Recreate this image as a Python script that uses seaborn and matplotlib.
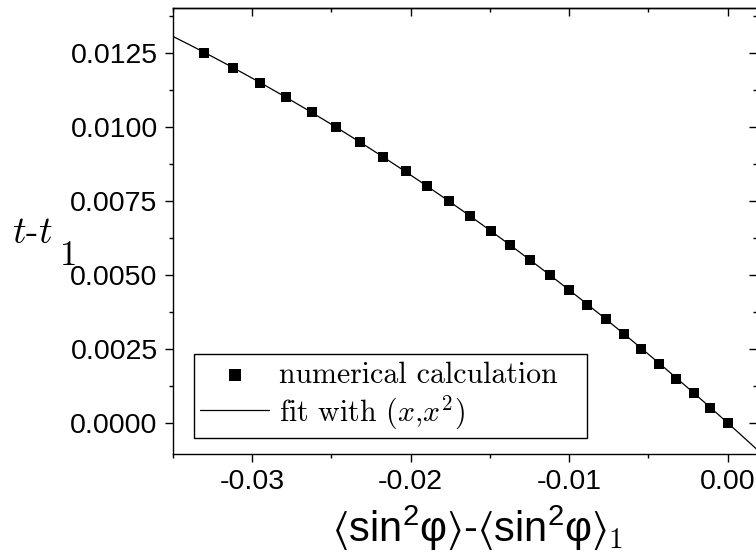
import numpy as np
import pandas as pd
import matplotlib
matplotlib.use("Agg")
import matplotlib.pyplot as plt
from matplotlib.ticker import MultipleLocator, FormatStrFormatter
import seaborn as sns

# Shift of <sin^2 phi> relative to point 1, and the corresponding shift t - t_1
dsin2 = [-0.03303, -0.03124, -0.02951, -0.02787, -0.02623, -0.02471, -0.02320,
         -0.02176, -0.02029, -0.01895, -0.01758, -0.01625, -0.01494, -0.01373,
         -0.01246, -0.01121, -0.01004, -0.00888, -0.00770, -0.00657, -0.00547,
         -0.00436, -0.00324, -0.00215, -0.00109, 0.00000]
dt = [0.0125, 0.0120, 0.0115, 0.0110, 0.0105, 0.0100, 0.0095, 0.0090, 0.0085,
      0.0080, 0.0075, 0.0070, 0.0065, 0.0060, 0.0055, 0.0050, 0.0045, 0.0040,
      0.0035, 0.0030, 0.0025, 0.0020, 0.0015, 0.0010, 0.0005, 0.0000]

label_points = "numerical calculation"
label_fit = r"fit with $(x{,}x^2)$"

df = pd.DataFrame({"x": dsin2, "t": dt})

# least-squares fit t = a x + b x^2 (no constant term)
xv = np.asarray(dsin2)
A = np.column_stack([xv, xv ** 2])
coef, *_ = np.linalg.lstsq(A, np.asarray(dt), rcond=None)
xfit = np.linspace(-0.0352, 0.0020, 300)
fit = pd.DataFrame({"x": xfit, "t": coef[0] * xfit + coef[1] * xfit ** 2})

sns.set_theme(style="ticks")
plt.rcParams.update({
    "font.family": ["Liberation Sans", "DejaVu Sans"],
    "axes.unicode_minus": False,
    "mathtext.fontset": "cm",
    "mathtext.rm": "Liberation Sans",
    "mathtext.it": "Liberation Sans:italic",
    "mathtext.sf": "cmr10",
    "mathtext.fallback": "stix",
    "axes.linewidth": 1.0,
    "axes.edgecolor": "black",
})

W, H = 756, 557
fig = plt.figure(figsize=(W / 100, H / 100), dpi=100)
ax = fig.add_axes([173 / W, 103 / H, 584 / W, 446 / H])

sns.lineplot(data=fit, x="x", y="t", color="black", lw=0.9, sort=False,
             estimator=None, label=label_fit, ax=ax, zorder=2)
sns.scatterplot(data=df, x="x", y="t", marker="s", s=44, color="black",
                edgecolor="black", linewidth=0, label=label_points, ax=ax, zorder=3)

ax.set_xlim(-0.035, 0.00185)
ax.set_ylim(-0.00105, 0.01402)

ax.xaxis.set_major_locator(MultipleLocator(0.01))
ax.xaxis.set_minor_locator(MultipleLocator(0.005))
ax.yaxis.set_major_locator(MultipleLocator(0.0025))
ax.yaxis.set_minor_locator(MultipleLocator(0.00125))
ax.xaxis.set_major_formatter(FormatStrFormatter("%.2f"))
ax.yaxis.set_major_formatter(FormatStrFormatter("%.4f"))

tick_kw = dict(color="black", width=1.0)
ax.tick_params(which="major", length=6, direction="out", labelsize=20.5,
               labelcolor="black", pad=5, **tick_kw)
ax.tick_params(which="minor", length=3, direction="out", **tick_kw)

# mirrored ticks on top and right, pointing into the frame
top = ax.secondary_xaxis("top")
top.xaxis.set_major_locator(MultipleLocator(0.01))
top.xaxis.set_minor_locator(MultipleLocator(0.005))
top.tick_params(which="major", length=6, direction="in", labeltop=False, **tick_kw)
top.tick_params(which="minor", length=3, direction="in", **tick_kw)
right = ax.secondary_yaxis("right")
right.yaxis.set_major_locator(MultipleLocator(0.0025))
right.yaxis.set_minor_locator(MultipleLocator(0.00125))
right.tick_params(which="major", length=6, direction="in", labelright=False, **tick_kw)
right.tick_params(which="minor", length=3, direction="in", **tick_kw)

# axis titles
xl = ax.set_xlabel(r"$\langle\mathrm{sin}^{2}\mathrm{φ}\rangle$-"
                   r"$\langle\mathrm{sin}^{2}\mathrm{φ}\rangle_{\mathsf{1}}$",
                   fontsize=30, color="black", ha="center", va="baseline")
xl.set_math_fontfamily("custom")
ax.xaxis.set_label_coords(0.521, -0.1966)

yl = ax.set_ylabel(r"$t$-$t$", fontsize=27, color="black", family="cmr10",
                   rotation=0, ha="left", va="baseline")
yl.set_math_fontfamily("cm")
ax.yaxis.set_label_coords(-0.2757, 0.473)
ax.text(-0.1935, 0.4238, "1", transform=ax.transAxes, fontsize=25,
        family="cmr10", color="black", ha="left", va="baseline")

handles, labels = ax.get_legend_handles_labels()
order = [labels.index(label_points), labels.index(label_fit)]
leg = ax.legend([handles[i] for i in order], [labels[i] for i in order],
                loc="lower left", bbox_to_anchor=(0.0365, 0.0365, 0.672, 0.0),
                mode="expand", borderaxespad=0, frameon=True, fancybox=False,
                framealpha=1, edgecolor="black",
                prop={"family": "cmr10", "size": 21.5},
                handlelength=2.3, handleheight=0.96, handletextpad=0.33,
                borderpad=0.2, labelspacing=0.15, markerscale=1.3,
                scatteryoffsets=[0.3])
leg.get_frame().set_linewidth(1.0)
for t in leg.get_texts():
    t.set_math_fontfamily("cm")
    t.set_color("black")

fig.savefig("out.png", dpi=100)
